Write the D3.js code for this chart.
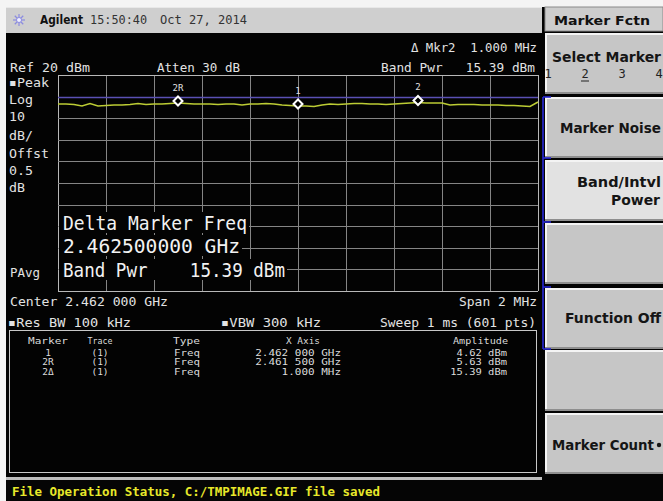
<!DOCTYPE html>
<html><head><meta charset="utf-8">
<script src="https://cdn.jsdelivr.net/npm/d3@7"></script>
<style>html,body{margin:0;padding:0;background:#fff;}svg{display:block;}text{white-space:pre;}</style>
</head><body>
<svg id="c" width="663" height="501"></svg>
<script>
// ---- data ----
const centerGHz = 2.462;
const spanGHz = 0.002;
const refLevel = 20;          // dBm
const dbPerDiv = 10;
const displayLine = 10;       // dBm
const traceDbm = [6.57,6.57,6.34,5.65,6.81,5.65,5.88,6.11,6.11,6.34,
  6.81,6.34,6.57,6.57,6.81,7.04,6.81,6.57,6.57,6.57,
  6.34,6.57,6.57,6.11,6.57,6.57,6.81,6.57,6.11,5.88,
  5.65,5.65,5.42,6.11,6.57,6.34,6.57,6.81,6.81,6.57,
  6.57,6.34,6.57,6.81,7.04,7.27,7.04,7.04,7.04,6.11,
  6.34,6.34,6.34,6.11,6.11,6.11,5.88,5.88,5.65,5.42,7.50];
const markerLabels = ["2R","1","2"];
const markerFreqs = [2.4615,2.462,2.4625];
const leftLabels = ["\u25AAPeak","Log","10","dB/","Offst","0.5","dB"];
const bigLines = ["Delta Marker Freq","2.462500000 GHz","Band Pwr    15.39 dBm"];
const tableHeaders = ["Marker","Trace","Type","X Axis","Amplitude"];
const tableMarker = ["1","2R","2\u0394"];
const tableTrace = ["(1)","(1)","(1)"];
const tableType = ["Freq","Freq","Freq"];
const tableX = ["2.462 000 GHz","2.461 500 GHz","1.000 MHz"];
const tableAmp = ["4.62 dBm","5.63 dBm","15.39 dBm"];
const softkeys = ["Select Marker","Marker Noise","Band/Intvl Power","","Function Off","","Marker Count"];

// ---- drawing ----
const svg = d3.select("#c");
const mono = "'DejaVu Sans Mono', 'Liberation Mono', monospace";
const sans = "'DejaVu Sans', 'Liberation Sans', sans-serif";

function txt(g, s, x, y, o) {
  o = o || {};
  const t = g.append("text").attr("x", x).attr("y", y).text(s)
    .attr("xml:space","preserve")
    .attr("font-family", o.ff || mono).attr("font-size", o.fs || 13)
    .attr("fill", o.fill || "#e2e2e2").attr("dominant-baseline", "central");
  if (o.anchor) t.attr("text-anchor", o.anchor);
  if (o.bold) t.attr("font-weight", "bold");
  if (o.len) t.attr("textLength", o.len).attr("lengthAdjust", "spacingAndGlyphs");
  return t;
}

// backgrounds
svg.append("rect").attr("x",0).attr("y",0).attr("width",663).attr("height",501).attr("fill","#f4f4f4");
svg.append("rect").attr("x",6).attr("y",7).attr("width",536).attr("height",26).attr("fill","#cfcfcf");
svg.append("rect").attr("x",6).attr("y",7).attr("width",536).attr("height",1).attr("fill","#e8e8e8");
svg.append("rect").attr("x",6).attr("y",33).attr("width",536).attr("height",446).attr("fill","#030303");
svg.append("rect").attr("x",542).attr("y",7).attr("width",121).attr("height",473).attr("fill","#030303");
svg.append("rect").attr("x",6).attr("y",477).attr("width",536).attr("height",3).attr("fill","#bdbdbd");
svg.append("rect").attr("x",6).attr("y",480).attr("width",657).attr("height",21).attr("fill","#050505");

// top bar content
const icon = svg.append("g").attr("transform","translate(19,20)");
[0,45,90,135].forEach(a => icon.append("line").attr("x1",-6).attr("x2",6).attr("y1",0).attr("y2",0)
  .attr("stroke","#8c8ce0").attr("stroke-width",1.2).attr("transform",`rotate(${a})`));
icon.append("circle").attr("r",2.5).attr("fill","#f0f0ff").attr("stroke","#8c8ce0");
txt(svg,"Agilent",40,20,{ff:sans,fs:12,bold:true,fill:"#111",len:43});
txt(svg,"15:50:40",90,20,{fs:12,fill:"#333",len:57});
txt(svg,"Oct 27, 2014",160,20,{fs:12,fill:"#333",len:87});

// scales
const x = d3.scaleLinear().domain([centerGHz-spanGHz/2, centerGHz+spanGHz/2]).range([58,538]);
const y = d3.scaleLinear().domain([refLevel-10*dbPerDiv, refLevel]).range([291,75]);

// grid
const grid = svg.append("g");
const xt = d3.range(11).map(i => x.domain()[0] + i*spanGHz/10);
const yt = d3.range(11).map(i => refLevel - i*dbPerDiv);
grid.selectAll("line.v").data(xt).join("line").attr("x1",d=>Math.round(x(d))+0.5).attr("x2",d=>Math.round(x(d))+0.5)
  .attr("y1",y(refLevel)).attr("y2",y(refLevel-100)).attr("stroke",(d,i)=> (i==0||i==10)?"#b8b8b8":"#858585").attr("stroke-width",1);
grid.selectAll("line.h").data(yt).join("line").attr("y1",d=>Math.round(y(d))+0.5).attr("y2",d=>Math.round(y(d))+0.5)
  .attr("x1",x.range()[0]).attr("x2",x.range()[1]).attr("stroke",(d,i)=> (i==0||i==10)?"#b8b8b8":"#858585").attr("stroke-width",1);
svg.append("line").attr("x1",58).attr("x2",538).attr("y1",Math.round(y(displayLine))+0.5).attr("y2",Math.round(y(displayLine))+0.5)
  .attr("stroke","#5a50b4").attr("stroke-width",1.3);

// trace
const n = traceDbm.length;
const freqs = traceDbm.map((d,i) => x.domain()[0] + i*spanGHz/(n-1));
svg.append("path").datum(traceDbm).attr("fill","none").attr("stroke","#bccc34").attr("stroke-width",1.6)
  .attr("d", d3.line().x((d,i)=>x(freqs[i])).y(d=>y(d)));

// markers
const interp = f => { const t = (f - freqs[0])/(freqs[1]-freqs[0]); const i = Math.min(n-2, Math.floor(t)); const r = t - i; return traceDbm[i]*(1-r)+traceDbm[i+1]*r; };
markerFreqs.forEach((f,k) => {
  const mx = x(f), my = y(interp(f)) - 2;
  svg.append("path").attr("d",`M${mx},${my-4.5}L${mx+4.5},${my}L${mx},${my+4.5}L${mx-4.5},${my}Z`)
    .attr("fill","#000").attr("stroke","#fff").attr("stroke-width",2);
  txt(svg, markerLabels[k], mx, my-13, {fs:9, anchor:"middle", fill:"#e0e0e0"});
});

// screen annotations
txt(svg,"Ref 20 dBm",10,67,{len:80});
txt(svg,"Atten 30 dB",157,67,{len:83});
txt(svg,"\u0394 Mkr2  1.000 MHz",537,47,{anchor:"end",len:126});
txt(svg,"Band Pwr   15.39 dBm",535,67,{anchor:"end",len:154});
const ly = [82,99,116,135,153,170,187];
leftLabels.forEach((s,i)=> txt(svg,s,9,ly[i],{len: s.length*8}));
txt(svg,"PAvg",10,272,{len:30});

// big text with black backing
const bigY = [223,246,270];
const bigW = [184,177,222];
bigLines.forEach((s,i) => {
  svg.append("rect").attr("x",59).attr("y",bigY[i]-11).attr("width",bigW[i]+6).attr("height",21).attr("fill","#030303");
  txt(svg,s,63,bigY[i],{fs:20,len:bigW[i],fill:"#f2f2f2"});
});

txt(svg,"Center 2.462 000 GHz",10,301,{len:158});
txt(svg,"Span 2 MHz",537,301,{anchor:"end",len:78});
txt(svg,"\u25AARes BW 100 kHz",8,322,{len:123});
txt(svg,"\u25AAVBW 300 kHz",221,322,{len:100});
txt(svg,"Sweep 1 ms (601 pts)",536,322,{anchor:"end",len:156});

// table frame
svg.append("rect").attr("x",9.5).attr("y",330.5).attr("width",527).attr("height",142).attr("fill","none").attr("stroke","#c8c8c8").attr("stroke-width",1);
const tf = {fs:9.5, fill:"#dadada"};
const hy = 340, ry = [352,361.5,371];
txt(svg,tableHeaders[0],48,hy,{...tf,anchor:"middle",len:40});
txt(svg,tableHeaders[1],100,hy,{...tf,anchor:"middle",len:25});
txt(svg,tableHeaders[2],173,hy,{...tf,len:27});
txt(svg,tableHeaders[3],303,hy,{...tf,anchor:"middle",len:34});
txt(svg,tableHeaders[4],508,hy,{...tf,anchor:"end",len:55});
tableMarker.forEach((s,i)=>{
  txt(svg,s,48,ry[i],{...tf,anchor:"middle"});
  txt(svg,tableTrace[i],100,ry[i],{...tf,anchor:"middle"});
  txt(svg,tableType[i],174,ry[i],{...tf,len:26});
  txt(svg,tableX[i],341,ry[i],{...tf,anchor:"end",len:tableX[i].length*6.6});
  txt(svg,tableAmp[i],507,ry[i],{...tf,anchor:"end",len:tableAmp[i].length*6.3});
});

// status bar
txt(svg,"File Operation Status, C:/TMPIMAGE.GIF file saved",12,491,{fs:13,bold:true,fill:"#e8e82a",len:368});

// right panel: title
svg.append("rect").attr("x",545).attr("y",7).attr("width",118).attr("height",24).attr("fill","#cdcdcd").attr("stroke","#8a8a8a");
txt(svg,"Marker Fctn",602,20,{ff:sans,fs:13,bold:true,fill:"#111",anchor:"middle",len:96});

// softkeys
const keyTop = [33,97,160,223,288,350,413];
softkeys.forEach((s,i)=>{
  const top = keyTop[i], h = 61;
  const g = svg.append("g");
  g.append("rect").attr("x",545).attr("y",top).attr("width",118).attr("height",h).attr("fill", i==2 ? "#e2e2e2" : "#c6c6c6");
  g.append("line").attr("x1",545).attr("x2",663).attr("y1",top+1).attr("y2",top+1).attr("stroke","#f4f4f4").attr("stroke-width",2);
  g.append("line").attr("x1",546).attr("x2",546).attr("y1",top).attr("y2",top+h).attr("stroke","#f4f4f4").attr("stroke-width",2);
  g.append("line").attr("x1",545).attr("x2",663).attr("y1",top+h-1).attr("y2",top+h-1).attr("stroke","#8e8e8e").attr("stroke-width",2);
});
const kf = {ff:sans,fs:14,bold:true,fill:"#151515"};
txt(svg,"Select Marker",552,57,{...kf,len:109});
[["1",548],["2",585],["3",622],["4",659]].forEach(([s,xx])=>{
  txt(svg,s,xx,74,{ff:mono,fs:12,fill:"#222",anchor:"middle"});
});
svg.append("line").attr("x1",581).attr("x2",589).attr("y1",81).attr("y2",81).attr("stroke","#222");
txt(svg,"Marker Noise",560,128,{...kf,len:101});
txt(svg,"Band/Intvl",577,182,{...kf,len:84});
txt(svg,"Power",660,200,{...kf,anchor:"end",len:49});
txt(svg,"Function Off",565,318,{...kf,len:96});
txt(svg,softkeys[6],552,445,{...kf,len:102});
svg.append("circle").attr("cx",659).attr("cy",445).attr("r",2.2).attr("fill","#151515");

// blue bracket
const bl = svg.append("g").attr("stroke","#2828d8").attr("stroke-width",1.6).attr("fill","none");
bl.append("line").attr("x1",543).attr("x2",543).attr("y1",97).attr("y2",349);
[97,158,222,287,349].forEach(v => bl.append("line").attr("x1",543).attr("x2",551).attr("y1",v).attr("y2",v));
</script>
</body></html>
